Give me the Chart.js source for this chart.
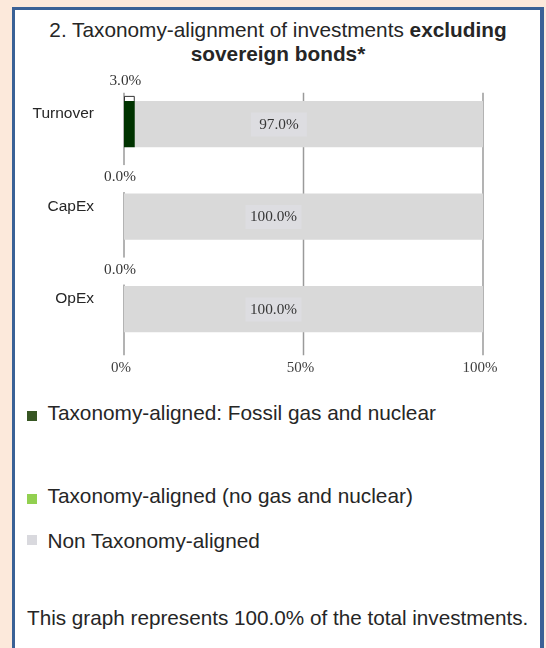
<!DOCTYPE html>
<html>
<head>
<meta charset="utf-8">
<script src="https://cdn.jsdelivr.net/npm/chart.js@4/dist/chart.umd.min.js"></script>
<style>
  html, body { margin: 0; padding: 0; }
  body { width: 546px; height: 648px; background: #FCE9DB; position: relative; overflow: hidden;
         font-family: "Liberation Sans", Arial, sans-serif; color: #262626; }
  #panel { position: absolute; left: 12px; top: 7px; width: 532px; height: 700px; box-sizing: border-box;
           background: #fff; border-style: solid; border-color: #3A6196;
           border-width: 3px 4px 0 3px; }
  #chartWrap { position: absolute; left: 0; top: 0; width: 546px; height: 400px; }
  .title { position: absolute; left: 16px; width: 524px; top: 17.5px; text-align: center;
           font-size: 20.8px; line-height: 24px; }
  .leg { position: absolute; left: 47.5px; font-size: 20.8px; line-height: 24px; white-space: nowrap; }
  .mk { position: absolute; left: 27px; width: 10px; height: 10px; }
  .foot { position: absolute; left: 27px; top: 606px; font-size: 20.7px; line-height: 24px; white-space: nowrap; }
</style>
</head>
<body>
<div id="panel"></div>
<div class="title">2. Taxonomy-alignment of investments <b>excluding</b><br><b>sovereign bonds*</b></div>
<div id="chartWrap"><canvas id="c" width="546" height="400"></canvas></div>

<div class="mk" style="top:411px;background:#375623"></div>
<div class="leg" style="top:401px">Taxonomy-aligned: Fossil gas and nuclear</div>
<div class="mk" style="top:494px;background:#92D050"></div>
<div class="leg" style="top:484px">Taxonomy-aligned (no gas and nuclear)</div>
<div class="mk" style="top:535px;background:#D9D9DE"></div>
<div class="leg" style="top:529px">Non Taxonomy-aligned</div>
<div class="foot">This graph represents 100.0% of the total investments.</div>

<script>
// ---- data ----
const categories = ["Turnover", "CapEx", "OpEx"];
const fossilGasNuclear = [3.0, 0.0, 0.0];
const alignedNoGasNuclear = [0.0, 0.0, 0.0];
const nonAligned = [97.0, 100.0, 100.0];
const xTickValues = [0, 50, 100];
const seriesNames = ["Taxonomy-aligned: Fossil gas and nuclear", "Taxonomy-aligned (no gas and nuclear)", "Non Taxonomy-aligned"];

const serif = "'Liberation Serif', 'Times New Roman', serif";

const gridPlugin = {
  id: 'customGrid',
  beforeDatasetsDraw(chart) {
    const ctx = chart.ctx, xs = chart.scales.x, area = chart.chartArea;
    ctx.save();
    ctx.strokeStyle = '#9A9A9A';
    ctx.lineWidth = 1.5;
    xTickValues.forEach(v => {
      const px = xs.getPixelForValue(v);
      ctx.beginPath();
      ctx.moveTo(px, area.top + 15);
      ctx.lineTo(px, area.bottom);
      ctx.stroke();
    });
    ctx.restore();
  }
};

const labelPlugin = {
  id: 'barLabels',
  afterDatasetsDraw(chart) {
    const ctx = chart.ctx;
    ctx.save();
    ctx.font = "15.3px " + serif;
    ctx.textAlign = 'center';
    ctx.textBaseline = 'middle';
    // fossil gas labels above bars
    chart.getDatasetMeta(0).data.forEach((bar, i) => {
      const v = fossilGasNuclear[i];
      const top = bar.y - bar.height / 2;
      const cx = (bar.base + bar.x) / 2 - 4;
      const txt = v.toFixed(1) + '%';
      let cy;
      if (v > 0) {
        ctx.strokeStyle = '#333';
        ctx.lineWidth = 1;
        ctx.beginPath();
        ctx.moveTo(bar.base + 0.5, top);
        ctx.lineTo(bar.base + 0.5, top - 4.5);
        ctx.lineTo(bar.x - 0.5, top - 4.5);
        ctx.lineTo(bar.x - 0.5, top);
        ctx.stroke();
        cy = top - 19.5;
      } else {
        cy = top - 16.3;
        const w = ctx.measureText(txt).width + 6;
        ctx.fillStyle = '#fff';
        ctx.fillRect(cx - w / 2, cy - 12, w, 27);
      }
      ctx.fillStyle = '#363636';
      ctx.fillText(txt, cx, cy);
    });
    // non-aligned labels inside bars
    chart.getDatasetMeta(2).data.forEach((bar, i) => {
      const v = nonAligned[i];
      const cx = (bar.base + bar.x) / 2 - 30;
      const cy = bar.y + 0.5;
      ctx.fillStyle = '#DDDDE1';
      ctx.fillRect(cx - 28, cy - 12, 56, 24);
      ctx.fillStyle = '#363636';
      ctx.fillText(v.toFixed(1) + '%', cx, cy);
    });
    ctx.restore();
  }
};

new Chart(document.getElementById('c'), {
  type: 'bar',
  data: {
    labels: categories,
    datasets: [
      { label: seriesNames[0], data: fossilGasNuclear, backgroundColor: '#003300', borderWidth: 0 },
      { label: seriesNames[1], data: alignedNoGasNuclear, backgroundColor: '#92D050', borderWidth: 0 },
      { label: seriesNames[2], data: nonAligned, backgroundColor: '#D9D9D9', borderWidth: 0 }
    ]
  },
  options: {
    indexAxis: 'y',
    responsive: false,
    animation: false,
    devicePixelRatio: 1,
    datasets: { bar: { barPercentage: 1, categoryPercentage: 0.5 } },
    layout: { padding: { left: 0, right: 63, top: 77.75, bottom: 0 } },
    plugins: { legend: { display: false }, tooltip: { enabled: false }, title: { display: false } },
    scales: {
      x: {
        stacked: true, min: 0, max: 100,
        grid: { display: false, drawTicks: false },
        border: { display: false },
        afterBuildTicks: s => { s.ticks = xTickValues.map(v => ({ value: v })); },
        afterFit: s => { s.height = 44.75; },
        ticks: { padding: 3.5, labelOffset: -3, color: '#404040', font: { family: serif, size: 15 },
                 callback: v => v + '%' }
      },
      y: {
        stacked: true,
        grid: { display: false, drawTicks: false },
        border: { display: false },
        afterFit: s => { s.width = 124; },
        ticks: { padding: 30, labelOffset: -10, color: '#262626',
                 font: { family: "'Liberation Sans', Arial, sans-serif", size: 15.5 } }
      }
    }
  },
  plugins: [gridPlugin, labelPlugin]
});
</script>
</body>
</html>
